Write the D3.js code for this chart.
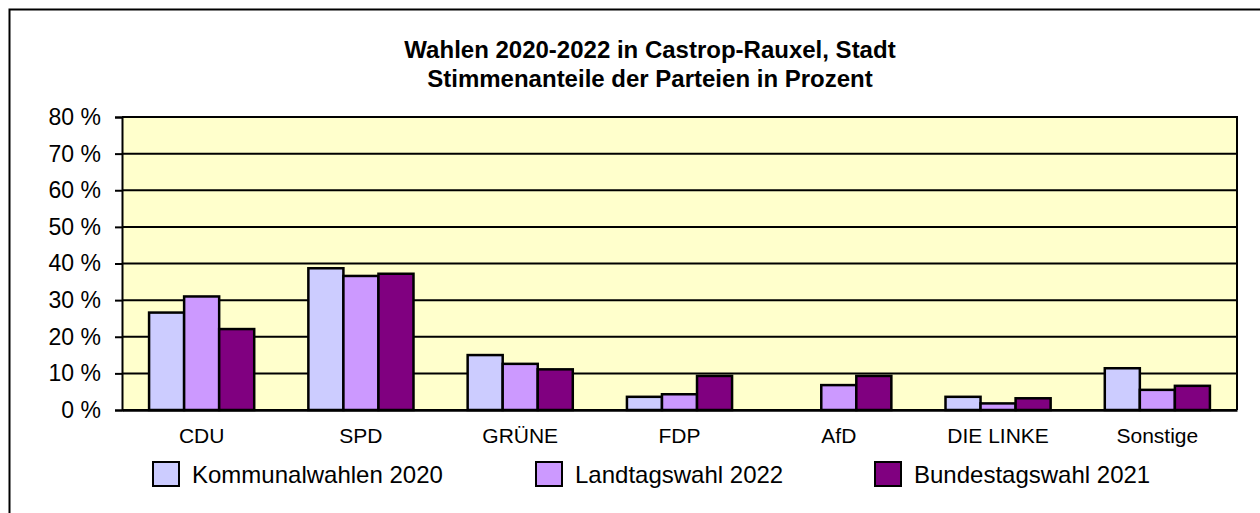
<!DOCTYPE html>
<html>
<head>
<meta charset="utf-8">
<script src="https://cdn.jsdelivr.net/npm/d3@7"></script>
<style>
  html, body { margin: 0; padding: 0; background: #ffffff; }
  svg { display: block; }
  text { font-family: Arial, "Liberation Sans", sans-serif; fill: #000; }
</style>
</head>
<body>
<svg id="chart" width="1260" height="513"></svg>
<script>
const categories = ["CDU", "SPD", "GRÜNE", "FDP", "AfD", "DIE LINKE", "Sonstige"];
const seriesNames = ["Kommunalwahlen 2020", "Landtagswahl 2022", "Bundestagswahl 2021"];
const kommunal2020 = [26.6, 38.7, 15.0, 3.6, null, 3.6, 11.4];
const landtag2022 = [31.0, 36.6, 12.6, 4.3, 6.8, 1.8, 5.5];
const bundestag2021 = [22.1, 37.2, 11.1, 9.3, 9.3, 3.2, 6.6];
const yTicks = [0, 10, 20, 30, 40, 50, 60, 70, 80];
const yTickLabels = ["0 %", "10 %", "20 %", "30 %", "40 %", "50 %", "60 %", "70 %", "80 %"];
const titleLines = ["Wahlen 2020-2022 in Castrop-Rauxel, Stadt", "Stimmenanteile der Parteien in Prozent"];
const colors = ["#CCCCFF", "#CC99FF", "#800080"];

const series = [kommunal2020, landtag2022, bundestag2021];

const svg = d3.select("#chart");
const pLeft = 122, pRight = 1237, pTop = 117, pBottom = 410;

// outer frame
svg.append("rect")
  .attr("x", 9.5).attr("y", 9.5)
  .attr("width", 1300).attr("height", 600)
  .attr("fill", "#fff").attr("stroke", "#000").attr("stroke-width", 2);

// title
svg.append("g").selectAll("text").data(titleLines).join("text")
  .attr("x", 650).attr("y", (d, i) => 58 + i * 29)
  .attr("text-anchor", "middle")
  .attr("font-size", 24).attr("font-weight", "bold")
  .text(d => d);

const x0 = d3.scaleBand().domain(categories).range([pLeft, pRight]).paddingInner(0.34).paddingOuter(0.17);
const x1 = d3.scaleBand().domain(d3.range(series.length)).range([0, x0.bandwidth()]);
const y = d3.scaleLinear().domain([0, 80]).range([pBottom, pTop]);

// plot background
svg.append("rect")
  .attr("x", pLeft).attr("y", pTop)
  .attr("width", pRight - pLeft).attr("height", pBottom - pTop)
  .attr("fill", "#FFFFCC");

// gridlines
svg.append("g").selectAll("line").data(yTicks).join("line")
  .attr("x1", pLeft).attr("x2", pRight)
  .attr("y1", d => y(d)).attr("y2", d => y(d))
  .attr("stroke", "#000").attr("stroke-width", 2);

// y axis
const yAxis = d3.axisLeft(y).tickValues(yTicks).tickSize(7).tickPadding(14)
  .tickFormat((d, i) => yTickLabels[i]);
const gy = svg.append("g").attr("transform", `translate(${pLeft},0)`).call(yAxis);
gy.select(".domain").attr("stroke", "#000").attr("stroke-width", 2);
gy.selectAll(".tick line").attr("stroke", "#000").attr("stroke-width", 2);
gy.selectAll(".tick text").attr("font-size", 23).attr("font-family", "Arial, 'Liberation Sans', sans-serif").attr("fill", "#000");

// bars
const groups = svg.append("g").selectAll("g").data(categories).join("g")
  .attr("transform", d => `translate(${x0(d)},0)`);
groups.selectAll("rect")
  .data((c, ci) => series.map((s, si) => ({ si, v: s[ci] })).filter(d => d.v != null))
  .join("rect")
  .attr("x", d => x1(d.si))
  .attr("width", x1.bandwidth())
  .attr("y", d => y(d.v))
  .attr("height", d => y(0) - y(d.v))
  .attr("fill", d => colors[d.si])
  .attr("stroke", "#000").attr("stroke-width", 2.5);

// plot frame (top and right)
svg.append("path")
  .attr("d", `M${pLeft},${pTop}H${pRight}V${pBottom}`)
  .attr("fill", "none").attr("stroke", "#000").attr("stroke-width", 2);

// x axis
const xAxis = d3.axisBottom(x0).tickSize(0).tickPadding(18);
const gx = svg.append("g").attr("transform", `translate(0,${pBottom})`).call(xAxis);
gx.select(".domain").attr("stroke", "#000").attr("stroke-width", 2.5);
gx.selectAll(".tick text").attr("font-size", 21).attr("font-family", "Arial, 'Liberation Sans', sans-serif").attr("fill", "#000");

// legend
const legendX = [153, 536, 875];
const lg = svg.append("g").selectAll("g").data(seriesNames).join("g")
  .attr("transform", (d, i) => `translate(${legendX[i]},462)`);
lg.append("rect").attr("width", 26).attr("height", 24)
  .attr("fill", (d, i) => colors[i]).attr("stroke", "#000").attr("stroke-width", 2);
lg.append("text").attr("x", 39).attr("y", 21)
  .attr("font-size", 24).text(d => d);
</script>
</body>
</html>
